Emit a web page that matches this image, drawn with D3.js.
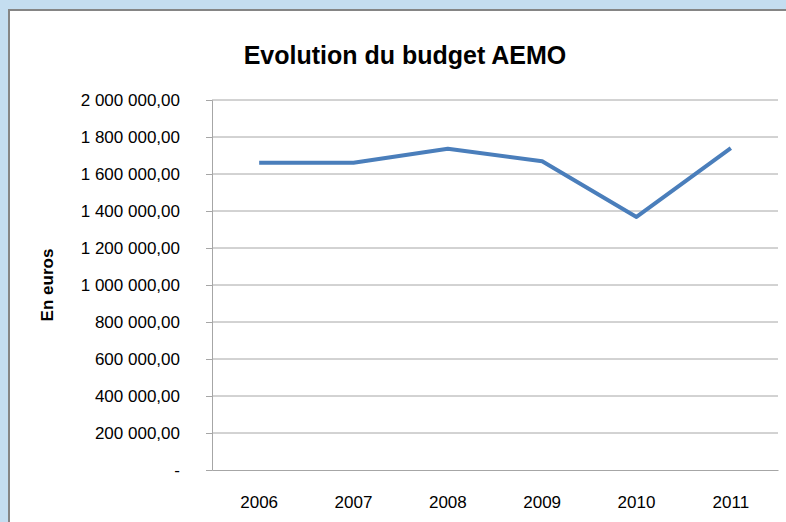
<!DOCTYPE html>
<html>
<head>
<meta charset="utf-8">
<script src="https://cdn.jsdelivr.net/npm/d3@7"></script>
<style>
  body { margin: 0; background: #c4ddf0; }
  svg { display: block; }
</style>
</head>
<body>
<svg id="chart"></svg>
<script>
const years = ["2006", "2007", "2008", "2009", "2010", "2011"];
const budget = [1661000, 1661000, 1736000, 1669000, 1368000, 1740000];
const yTicks = [0, 200000, 400000, 600000, 800000, 1000000, 1200000, 1400000, 1600000, 1800000, 2000000];

const width = 786, height = 522;
const margin = { top: 100, right: 8, bottom: 52, left: 212 };
const font = "'Liberation Sans Narrow', 'Liberation Sans', sans-serif";

const svg = d3.select("#chart").attr("width", width).attr("height", height);

// chart area frame
svg.append("rect")
  .attr("x", 9).attr("y", 10)
  .attr("width", width).attr("height", height)
  .attr("fill", "#fff")
  .attr("stroke", "#858585")
  .attr("stroke-width", 2);

svg.append("text")
  .attr("x", 405).attr("y", 64)
  .attr("text-anchor", "middle")
  .attr("font-family", font)
  .attr("font-weight", "bold")
  .attr("font-size", 25)
  .text("Evolution du budget AEMO");

const fr = d3.formatLocale({ decimal: ",", thousands: " ", grouping: [3], currency: ["", ""] });
const fmt = fr.format(",.2f");

const x = d3.scaleBand()
  .domain(years)
  .range([margin.left, width - margin.right]);

const y = d3.scaleLinear()
  .domain([0, 2000000])
  .range([height - margin.bottom, margin.top]);

// gridlines
svg.append("g")
  .selectAll("line")
  .data(yTicks.filter(d => d > 0))
  .join("line")
  .attr("x1", margin.left).attr("x2", width - margin.right)
  .attr("y1", d => y(d)).attr("y2", d => y(d))
  .attr("stroke", "#a6a6a6")
  .attr("stroke-width", 1);

// y axis
const yAxis = svg.append("g")
  .attr("transform", `translate(${margin.left},0)`)
  .call(d3.axisLeft(y).tickValues(yTicks).tickSize(6).tickFormat(d => d === 0 ? "-" : fmt(d)));
yAxis.select(".domain").attr("stroke", "#a6a6a6");
yAxis.selectAll(".tick line").attr("stroke", "#a6a6a6").attr("x2", -6);
yAxis.selectAll(".tick text")
  .attr("x", -32)
  .attr("font-family", font)
  .attr("font-size", 17)
  .attr("fill", "#000");

// x axis
const xAxis = svg.append("g")
  .attr("transform", `translate(0,${y(0)})`)
  .call(d3.axisBottom(x).tickSize(0).tickSizeOuter(0));
xAxis.select(".domain").attr("stroke", "#a6a6a6");
xAxis.selectAll(".tick text")
  .attr("dy", "1.2em")
  .attr("y", 18)
  .attr("font-family", font)
  .attr("font-size", 17)
  .attr("fill", "#000");

svg.append("text")
  .attr("transform", "translate(53,285) rotate(-90)")
  .attr("text-anchor", "middle")
  .attr("font-family", font)
  .attr("font-weight", "bold")
  .attr("font-size", 17)
  .text("En euros");

const line = d3.line()
  .x((d, i) => x(years[i]) + x.bandwidth() / 2)
  .y(d => y(d));

svg.append("path")
  .datum(budget)
  .attr("d", line)
  .attr("fill", "none")
  .attr("stroke", "#4a7ebb")
  .attr("stroke-width", 4)
  .attr("stroke-linejoin", "round");
</script>
</body>
</html>
